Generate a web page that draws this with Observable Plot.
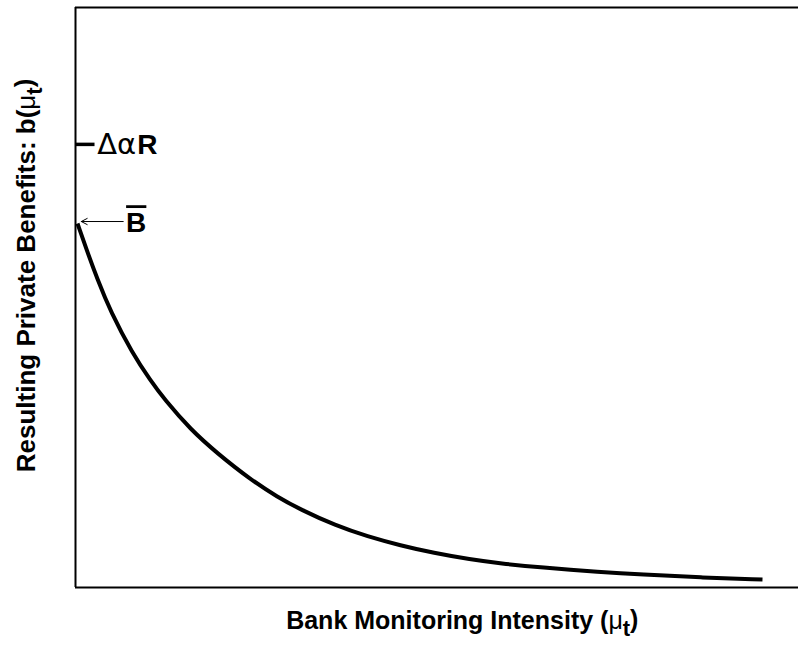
<!DOCTYPE html>
<html>
<head>
<meta charset="utf-8">
<script src="https://cdn.jsdelivr.net/npm/d3@7"></script>
<script src="https://cdn.jsdelivr.net/npm/@observablehq/plot@0.6"></script>
<style>
  html, body { margin: 0; padding: 0; background: #fff; }
  #chart svg { display: block; }
</style>
</head>
<body>
<div id="chart"></div>
<script>
// Curve (x: monitoring intensity, y: private benefits), arbitrary 0–10 units
const curveX = [0.028, 0.152, 0.304, 0.484, 0.788, 1.037, 1.231, 1.591, 1.964, 2.420, 2.794, 3.112, 3.596, 4.039, 4.495, 4.952, 5.463, 5.878, 6.432, 7.261, 7.815, 8.645, 9.502];
const curveY = [6.276, 5.828, 5.310, 4.759, 4.034, 3.569, 3.241, 2.724, 2.310, 1.862, 1.560, 1.345, 1.069, 0.879, 0.724, 0.595, 0.483, 0.414, 0.345, 0.267, 0.224, 0.172, 0.138];

// Annotated levels on the y axis
const levelLabels = ["ΔαR", "B"];
const levelValues = [7.64, 6.31];

// Axis titles
const xTitle = "Bank Monitoring Intensity (μt)";
const yTitle = "Resulting Private Benefits: b(μt)";

const curve = curveX.map((x, i) => ({x, y: curveY[i]}));
const FONT = "Liberation Sans, Arial, Helvetica, sans-serif";

const plot = Plot.plot({
  width: 798,
  height: 647,
  marginLeft: 75,
  marginRight: 0,
  marginTop: 7,
  marginBottom: 60,
  x: {domain: [0, 10], axis: null},
  y: {domain: [0, 10], axis: null},
  style: {fontFamily: FONT, background: "#fff", overflow: "visible"},
  marks: [
    // frame: top and bottom rules, left rule
    Plot.ruleY([0, 10], {stroke: "#000", strokeWidth: 1.8}),
    Plot.ruleX([0], {stroke: "#000", strokeWidth: 2}),
    // tick for ΔαR
    Plot.ruleY([levelValues[0]], {x1: 0, x2: 0.27, stroke: "#000", strokeWidth: 3.5}),
    // curve
    Plot.line(curve, {x: "x", y: "y", curve: "basis", stroke: "#000", strokeWidth: 4, strokeLinecap: "butt"}),
    // arrow pointing at B̄
    Plot.arrow([{x1: 0.66, x2: 0.08, y: levelValues[1]}], {x1: "x1", x2: "x2", y1: "y", y2: "y", stroke: "#000", strokeWidth: 1, headLength: 10, headAngle: 55}),
    // labels
    Plot.text([levelLabels[0]], {x: 0.30, y: levelValues[0] - 0.02, text: d => d, textAnchor: "start", fontSize: 26, fontWeight: "bold", fill: "#000"}),
    Plot.text([levelLabels[1]], {x: 0.70, y: levelValues[1] - 0.03, text: d => d, textAnchor: "start", fontSize: 28, fontWeight: "bold", fill: "#000"}),
    Plot.text([xTitle], {x: 5.35, y: -0.57, text: d => d, fontSize: 25, fontWeight: "bold", fill: "#000"}),
    Plot.text([yTitle], {x: -0.68, y: 5.38, text: d => d, rotate: -90, fontSize: 26, fontWeight: "bold", fill: "#000"})
  ]
});

document.getElementById("chart").appendChild(plot);

// Rich text formatting (subscripts, mixed weights, overline)
const NS = "http://www.w3.org/2000/svg";
function rich(match, parts) {
  plot.querySelectorAll("text").forEach(el => {
    if (el.textContent !== match) return;
    el.textContent = "";
    parts.forEach(p => {
      const t = document.createElementNS(NS, "tspan");
      t.textContent = p.text;
      for (const k in (p.attrs || {})) t.setAttribute(k, p.attrs[k]);
      el.appendChild(t);
    });
  });
}
rich(xTitle, [
  {text: "Bank Monitoring Intensity (", attrs: {"font-size": "25"}},
  {text: "μ", attrs: {"font-weight": "normal", "font-size": "25"}},
  {text: "t", attrs: {dy: "0.35em", "font-size": "22"}},
  {text: ")", attrs: {dy: "-0.35em", "font-size": "25"}}
]);
rich(yTitle, [
  {text: "Resulting Private Benefits: b(", attrs: {"font-size": "26"}},
  {text: "μ", attrs: {"font-weight": "normal", "font-size": "26"}},
  {text: "t", attrs: {dy: "0.35em", "font-size": "22"}},
  {text: ")", attrs: {dy: "-0.35em", "font-size": "26"}}
]);
rich("ΔαR", [
  {text: "Δα", attrs: {"font-weight": "normal", "font-family": "DejaVu Sans", "font-size": "29"}},
  {text: "R", attrs: {dx: "1", "font-size": "28", "font-weight": "bold"}}
]);
plot.querySelectorAll("text").forEach(el => {
  if (el.textContent === "B") { el.style.textDecoration = "overline"; el.setAttribute("font-size", "28"); }
});
</script>
</body>
</html>
